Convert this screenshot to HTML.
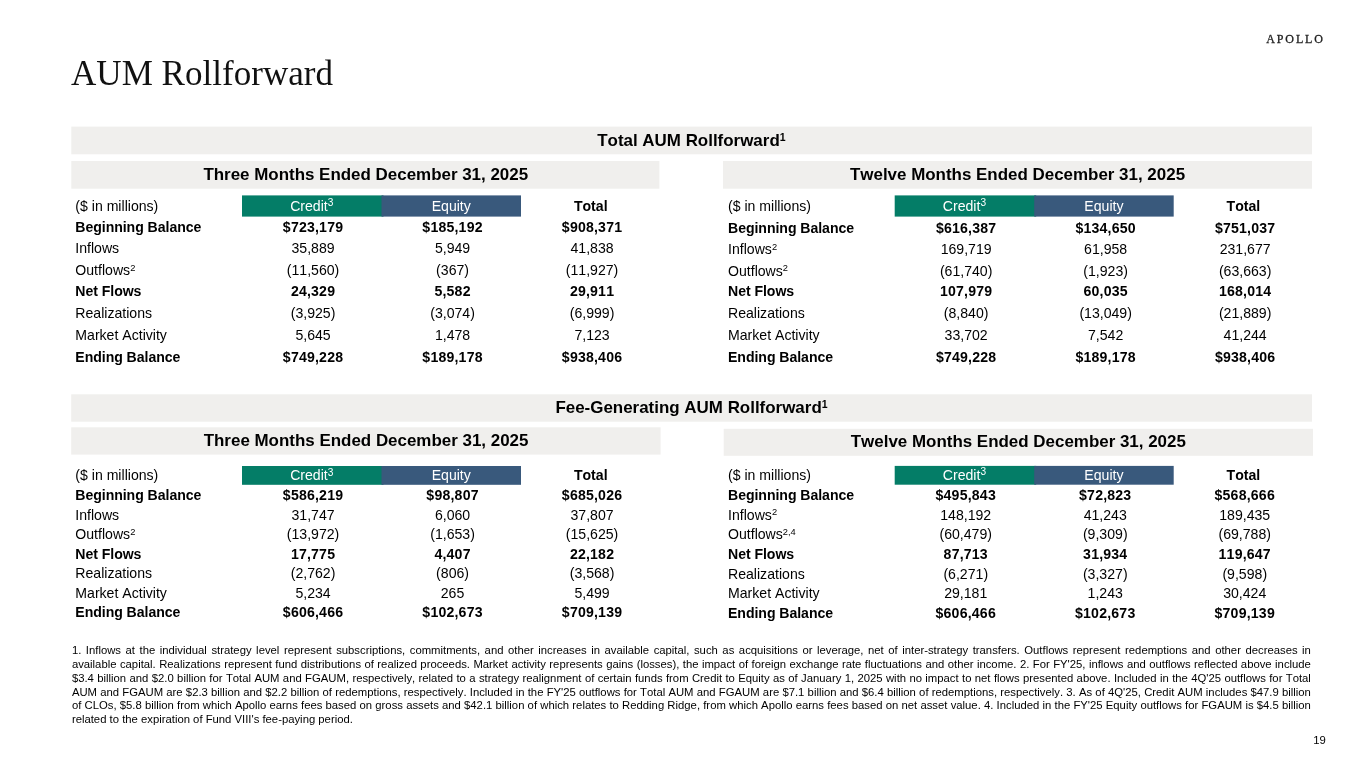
<!DOCTYPE html>
<html lang="en"><head><meta charset="utf-8"><title>AUM Rollforward</title>
<style>
html,body{margin:0;padding:0;background:#fff}
body{width:1365px;height:768px;position:relative;overflow:hidden;font-family:"Liberation Sans",Arial,sans-serif;color:#000;font-kerning:none}
.bg{position:absolute;left:0;top:0}
.cell{position:absolute}
.cr{background:#0a7b65}
.eq{background:#3a5a7a}
.t{position:absolute;font-size:14.1px;line-height:20px;white-space:nowrap}
.b{font-weight:bold}
.w{color:#fff}
.n.b{letter-spacing:0.2px}
.l.b{letter-spacing:-0.05px}
.l sup{font-size:66%;top:-0.47em}
sup{font-size:72%;line-height:0;vertical-align:baseline;position:relative;top:-0.445em}
.h sup{font-size:62%;top:-0.49em}
.h{position:absolute;font-weight:bold;font-size:16.95px;line-height:24px;white-space:nowrap;text-align:center}
.title{position:absolute;left:70.5px;top:48px;font-family:"Liberation Serif","Times New Roman",serif;font-size:36px;line-height:50px;white-space:nowrap;transform:translateY(-0.45px) scaleX(0.974);transform-origin:0 0;color:#111}
.logo{position:absolute;left:1266.2px;top:31.35px;font-family:"Liberation Serif","Times New Roman",serif;font-size:12px;line-height:16px;letter-spacing:1.9px;-webkit-text-stroke:0.3px #222;white-space:nowrap;color:#222}
.fn{position:absolute;left:71.9px;width:1239px;font-size:11.3px;line-height:14px;white-space:nowrap}
.j{text-align:justify;text-align-last:justify;white-space:normal;height:14px;overflow:hidden}
.pg{position:absolute;left:1290px;width:35.8px;top:732.3px;text-align:right;font-size:11.3px;line-height:16px}
</style></head><body>
<div class="title">AUM Rollforward</div>
<div class="logo">APOLLO</div>
<svg class="bg" width="1365" height="768" viewBox="0 0 1365 768">
<g fill="#f0efed">
<rect x="71.3" y="126.6" width="1240.7" height="27.7"/>
<rect x="71.3" y="161" width="588.1" height="27.7"/>
<rect x="723" y="161" width="589" height="27.7"/>
<rect x="71.2" y="394.3" width="1240.8" height="27.4"/>
<rect x="71.2" y="427.3" width="589.4" height="27.3"/>
<rect x="723.7" y="428.8" width="589.3" height="27"/>
</g>
<rect x="242.00" y="195.40" width="141.50" height="21.20" fill="#047d67"/>
<rect x="381.50" y="195.40" width="139.50" height="21.20" fill="#39597c"/>
<rect x="894.70" y="195.40" width="141.50" height="21.20" fill="#047d67"/>
<rect x="1034.20" y="195.40" width="139.50" height="21.20" fill="#39597c"/>
<rect x="242.00" y="466.00" width="141.50" height="18.80" fill="#047d67"/>
<rect x="381.50" y="466.00" width="139.50" height="18.80" fill="#39597c"/>
<rect x="894.70" y="465.90" width="141.50" height="18.80" fill="#047d67"/>
<rect x="1034.20" y="465.90" width="139.50" height="18.80" fill="#39597c"/>
</svg>
<div class="h" id="h1" style="left:70.9px;width:1241px;top:128.7px">Total AUM Rollforward<sup>1</sup></div>
<div class="h" id="h2" style="left:71.5px;width:588.5px;top:162.9px">Three Months Ended December 31, 2025</div>
<div class="h" id="h3" style="left:723px;width:589px;top:162.85px">Twelve Months Ended December 31, 2025</div>
<div class="h" id="h4" style="left:71px;width:1241px;top:396px">Fee-Generating AUM Rollforward<sup>1</sup></div>
<div class="h" id="h5" style="left:71.3px;width:589.5px;top:429.2px">Three Months Ended December 31, 2025</div>
<div class="h" id="h6" style="left:723.7px;width:589.3px;top:430.45px">Twelve Months Ended December 31, 2025</div>
<div class="t " style="left:75.30px;top:195.61px;width:170.00px;text-align:left;">($ in millions)</div>
<div class="t w" style="left:242.00px;top:195.61px;width:139.50px;text-align:center;">Credit<sup>3</sup></div>
<div class="t w" style="left:381.50px;top:195.61px;width:139.50px;text-align:center;">Equity</div>
<div class="t b" style="left:521.00px;top:195.61px;width:139.50px;text-align:center;">Total</div>
<div class="t l b" style="left:75.30px;top:216.81px;width:170.00px;text-align:left;">Beginning Balance</div>
<div class="t n b" style="left:243.30px;top:216.81px;width:139.50px;text-align:center;">$723,179</div>
<div class="t n b" style="left:382.80px;top:216.81px;width:139.50px;text-align:center;">$185,192</div>
<div class="t n b" style="left:522.30px;top:216.81px;width:139.50px;text-align:center;">$908,371</div>
<div class="t l " style="left:75.30px;top:238.41px;width:170.00px;text-align:left;">Inflows</div>
<div class="t n " style="left:243.30px;top:238.41px;width:139.50px;text-align:center;">35,889</div>
<div class="t n " style="left:382.80px;top:238.41px;width:139.50px;text-align:center;">5,949</div>
<div class="t n " style="left:522.30px;top:238.41px;width:139.50px;text-align:center;">41,838</div>
<div class="t l " style="left:75.30px;top:259.91px;width:170.00px;text-align:left;">Outflows<sup>2</sup></div>
<div class="t n " style="left:243.30px;top:259.91px;width:139.50px;text-align:center;">(11,560)</div>
<div class="t n " style="left:382.80px;top:259.91px;width:139.50px;text-align:center;">(367)</div>
<div class="t n " style="left:522.30px;top:259.91px;width:139.50px;text-align:center;">(11,927)</div>
<div class="t l b" style="left:75.30px;top:280.91px;width:170.00px;text-align:left;">Net Flows</div>
<div class="t n b" style="left:243.30px;top:280.91px;width:139.50px;text-align:center;">24,329</div>
<div class="t n b" style="left:382.80px;top:280.91px;width:139.50px;text-align:center;">5,582</div>
<div class="t n b" style="left:522.30px;top:280.91px;width:139.50px;text-align:center;">29,911</div>
<div class="t l " style="left:75.30px;top:303.11px;width:170.00px;text-align:left;">Realizations</div>
<div class="t n " style="left:243.30px;top:303.11px;width:139.50px;text-align:center;">(3,925)</div>
<div class="t n " style="left:382.80px;top:303.11px;width:139.50px;text-align:center;">(3,074)</div>
<div class="t n " style="left:522.30px;top:303.11px;width:139.50px;text-align:center;">(6,999)</div>
<div class="t l " style="left:75.30px;top:325.31px;width:170.00px;text-align:left;">Market Activity</div>
<div class="t n " style="left:243.30px;top:325.31px;width:139.50px;text-align:center;">5,645</div>
<div class="t n " style="left:382.80px;top:325.31px;width:139.50px;text-align:center;">1,478</div>
<div class="t n " style="left:522.30px;top:325.31px;width:139.50px;text-align:center;">7,123</div>
<div class="t l b" style="left:75.30px;top:347.21px;width:170.00px;text-align:left;">Ending Balance</div>
<div class="t n b" style="left:243.30px;top:347.21px;width:139.50px;text-align:center;">$749,228</div>
<div class="t n b" style="left:382.80px;top:347.21px;width:139.50px;text-align:center;">$189,178</div>
<div class="t n b" style="left:522.30px;top:347.21px;width:139.50px;text-align:center;">$938,406</div>
<div class="t " style="left:728.00px;top:195.91px;width:170.00px;text-align:left;">($ in millions)</div>
<div class="t w" style="left:894.70px;top:195.91px;width:139.50px;text-align:center;">Credit<sup>3</sup></div>
<div class="t w" style="left:1034.20px;top:195.91px;width:139.50px;text-align:center;">Equity</div>
<div class="t b" style="left:1173.70px;top:195.91px;width:139.50px;text-align:center;">Total</div>
<div class="t l b" style="left:728.00px;top:217.71px;width:170.00px;text-align:left;">Beginning Balance</div>
<div class="t n b" style="left:896.40px;top:217.71px;width:139.50px;text-align:center;">$616,387</div>
<div class="t n b" style="left:1035.90px;top:217.71px;width:139.50px;text-align:center;">$134,650</div>
<div class="t n b" style="left:1175.40px;top:217.71px;width:139.50px;text-align:center;">$751,037</div>
<div class="t l " style="left:728.00px;top:239.21px;width:170.00px;text-align:left;">Inflows<sup>2</sup></div>
<div class="t n " style="left:896.40px;top:239.21px;width:139.50px;text-align:center;">169,719</div>
<div class="t n " style="left:1035.90px;top:239.21px;width:139.50px;text-align:center;">61,958</div>
<div class="t n " style="left:1175.40px;top:239.21px;width:139.50px;text-align:center;">231,677</div>
<div class="t l " style="left:728.00px;top:260.61px;width:170.00px;text-align:left;">Outflows<sup>2</sup></div>
<div class="t n " style="left:896.40px;top:260.61px;width:139.50px;text-align:center;">(61,740)</div>
<div class="t n " style="left:1035.90px;top:260.61px;width:139.50px;text-align:center;">(1,923)</div>
<div class="t n " style="left:1175.40px;top:260.61px;width:139.50px;text-align:center;">(63,663)</div>
<div class="t l b" style="left:728.00px;top:281.31px;width:170.00px;text-align:left;">Net Flows</div>
<div class="t n b" style="left:896.40px;top:281.31px;width:139.50px;text-align:center;">107,979</div>
<div class="t n b" style="left:1035.90px;top:281.31px;width:139.50px;text-align:center;">60,035</div>
<div class="t n b" style="left:1175.40px;top:281.31px;width:139.50px;text-align:center;">168,014</div>
<div class="t l " style="left:728.00px;top:303.41px;width:170.00px;text-align:left;">Realizations</div>
<div class="t n " style="left:896.40px;top:303.41px;width:139.50px;text-align:center;">(8,840)</div>
<div class="t n " style="left:1035.90px;top:303.41px;width:139.50px;text-align:center;">(13,049)</div>
<div class="t n " style="left:1175.40px;top:303.41px;width:139.50px;text-align:center;">(21,889)</div>
<div class="t l " style="left:728.00px;top:325.41px;width:170.00px;text-align:left;">Market Activity</div>
<div class="t n " style="left:896.40px;top:325.41px;width:139.50px;text-align:center;">33,702</div>
<div class="t n " style="left:1035.90px;top:325.41px;width:139.50px;text-align:center;">7,542</div>
<div class="t n " style="left:1175.40px;top:325.41px;width:139.50px;text-align:center;">41,244</div>
<div class="t l b" style="left:728.00px;top:346.51px;width:170.00px;text-align:left;">Ending Balance</div>
<div class="t n b" style="left:896.40px;top:346.51px;width:139.50px;text-align:center;">$749,228</div>
<div class="t n b" style="left:1035.90px;top:346.51px;width:139.50px;text-align:center;">$189,178</div>
<div class="t n b" style="left:1175.40px;top:346.51px;width:139.50px;text-align:center;">$938,406</div>
<div class="t " style="left:75.30px;top:465.11px;width:170.00px;text-align:left;">($ in millions)</div>
<div class="t w" style="left:242.00px;top:465.11px;width:139.50px;text-align:center;">Credit<sup>3</sup></div>
<div class="t w" style="left:381.50px;top:465.11px;width:139.50px;text-align:center;">Equity</div>
<div class="t b" style="left:521.00px;top:465.11px;width:139.50px;text-align:center;">Total</div>
<div class="t l b" style="left:75.30px;top:484.81px;width:170.00px;text-align:left;">Beginning Balance</div>
<div class="t n b" style="left:243.30px;top:484.81px;width:139.50px;text-align:center;">$586,219</div>
<div class="t n b" style="left:382.80px;top:484.81px;width:139.50px;text-align:center;">$98,807</div>
<div class="t n b" style="left:522.30px;top:484.81px;width:139.50px;text-align:center;">$685,026</div>
<div class="t l " style="left:75.30px;top:504.81px;width:170.00px;text-align:left;">Inflows</div>
<div class="t n " style="left:243.30px;top:504.81px;width:139.50px;text-align:center;">31,747</div>
<div class="t n " style="left:382.80px;top:504.81px;width:139.50px;text-align:center;">6,060</div>
<div class="t n " style="left:522.30px;top:504.81px;width:139.50px;text-align:center;">37,807</div>
<div class="t l " style="left:75.30px;top:524.21px;width:170.00px;text-align:left;">Outflows<sup>2</sup></div>
<div class="t n " style="left:243.30px;top:524.21px;width:139.50px;text-align:center;">(13,972)</div>
<div class="t n " style="left:382.80px;top:524.21px;width:139.50px;text-align:center;">(1,653)</div>
<div class="t n " style="left:522.30px;top:524.21px;width:139.50px;text-align:center;">(15,625)</div>
<div class="t l b" style="left:75.30px;top:543.61px;width:170.00px;text-align:left;">Net Flows</div>
<div class="t n b" style="left:243.30px;top:543.61px;width:139.50px;text-align:center;">17,775</div>
<div class="t n b" style="left:382.80px;top:543.61px;width:139.50px;text-align:center;">4,407</div>
<div class="t n b" style="left:522.30px;top:543.61px;width:139.50px;text-align:center;">22,182</div>
<div class="t l " style="left:75.30px;top:563.41px;width:170.00px;text-align:left;">Realizations</div>
<div class="t n " style="left:243.30px;top:563.41px;width:139.50px;text-align:center;">(2,762)</div>
<div class="t n " style="left:382.80px;top:563.41px;width:139.50px;text-align:center;">(806)</div>
<div class="t n " style="left:522.30px;top:563.41px;width:139.50px;text-align:center;">(3,568)</div>
<div class="t l " style="left:75.30px;top:582.71px;width:170.00px;text-align:left;">Market Activity</div>
<div class="t n " style="left:243.30px;top:582.71px;width:139.50px;text-align:center;">5,234</div>
<div class="t n " style="left:382.80px;top:582.71px;width:139.50px;text-align:center;">265</div>
<div class="t n " style="left:522.30px;top:582.71px;width:139.50px;text-align:center;">5,499</div>
<div class="t l b" style="left:75.30px;top:602.21px;width:170.00px;text-align:left;">Ending Balance</div>
<div class="t n b" style="left:243.30px;top:602.21px;width:139.50px;text-align:center;">$606,466</div>
<div class="t n b" style="left:382.80px;top:602.21px;width:139.50px;text-align:center;">$102,673</div>
<div class="t n b" style="left:522.30px;top:602.21px;width:139.50px;text-align:center;">$709,139</div>
<div class="t " style="left:728.00px;top:464.91px;width:170.00px;text-align:left;">($ in millions)</div>
<div class="t w" style="left:894.70px;top:464.91px;width:139.50px;text-align:center;">Credit<sup>3</sup></div>
<div class="t w" style="left:1034.20px;top:464.91px;width:139.50px;text-align:center;">Equity</div>
<div class="t b" style="left:1173.70px;top:464.91px;width:139.50px;text-align:center;">Total</div>
<div class="t l b" style="left:728.00px;top:484.51px;width:170.00px;text-align:left;">Beginning Balance</div>
<div class="t n b" style="left:896.00px;top:484.51px;width:139.50px;text-align:center;">$495,843</div>
<div class="t n b" style="left:1035.50px;top:484.51px;width:139.50px;text-align:center;">$72,823</div>
<div class="t n b" style="left:1175.00px;top:484.51px;width:139.50px;text-align:center;">$568,666</div>
<div class="t l " style="left:728.00px;top:504.61px;width:170.00px;text-align:left;">Inflows<sup>2</sup></div>
<div class="t n " style="left:896.00px;top:504.61px;width:139.50px;text-align:center;">148,192</div>
<div class="t n " style="left:1035.50px;top:504.61px;width:139.50px;text-align:center;">41,243</div>
<div class="t n " style="left:1175.00px;top:504.61px;width:139.50px;text-align:center;">189,435</div>
<div class="t l " style="left:728.00px;top:524.31px;width:170.00px;text-align:left;">Outflows<sup>2,4</sup></div>
<div class="t n " style="left:896.00px;top:524.31px;width:139.50px;text-align:center;">(60,479)</div>
<div class="t n " style="left:1035.50px;top:524.31px;width:139.50px;text-align:center;">(9,309)</div>
<div class="t n " style="left:1175.00px;top:524.31px;width:139.50px;text-align:center;">(69,788)</div>
<div class="t l b" style="left:728.00px;top:544.01px;width:170.00px;text-align:left;">Net Flows</div>
<div class="t n b" style="left:896.00px;top:544.01px;width:139.50px;text-align:center;">87,713</div>
<div class="t n b" style="left:1035.50px;top:544.01px;width:139.50px;text-align:center;">31,934</div>
<div class="t n b" style="left:1175.00px;top:544.01px;width:139.50px;text-align:center;">119,647</div>
<div class="t l " style="left:728.00px;top:563.81px;width:170.00px;text-align:left;">Realizations</div>
<div class="t n " style="left:896.00px;top:563.81px;width:139.50px;text-align:center;">(6,271)</div>
<div class="t n " style="left:1035.50px;top:563.81px;width:139.50px;text-align:center;">(3,327)</div>
<div class="t n " style="left:1175.00px;top:563.81px;width:139.50px;text-align:center;">(9,598)</div>
<div class="t l " style="left:728.00px;top:582.81px;width:170.00px;text-align:left;">Market Activity</div>
<div class="t n " style="left:896.00px;top:582.81px;width:139.50px;text-align:center;">29,181</div>
<div class="t n " style="left:1035.50px;top:582.81px;width:139.50px;text-align:center;">1,243</div>
<div class="t n " style="left:1175.00px;top:582.81px;width:139.50px;text-align:center;">30,424</div>
<div class="t l b" style="left:728.00px;top:602.51px;width:170.00px;text-align:left;">Ending Balance</div>
<div class="t n b" style="left:896.00px;top:602.51px;width:139.50px;text-align:center;">$606,466</div>
<div class="t n b" style="left:1035.50px;top:602.51px;width:139.50px;text-align:center;">$102,673</div>
<div class="t n b" style="left:1175.00px;top:602.51px;width:139.50px;text-align:center;">$709,139</div>
<div class="fn j" style="top:643.38px">1. Inflows at the individual strategy level represent subscriptions, commitments, and other increases in available capital, such as acquisitions or leverage, net of inter-strategy transfers. Outflows represent redemptions and other decreases in</div>
<div class="fn j" style="top:657.18px">available capital. Realizations represent fund distributions of realized proceeds. Market activity represents gains (losses), the impact of foreign exchange rate fluctuations and other income. 2. For FY'25, inflows and outflows reflected above include</div>
<div class="fn j" style="top:670.88px">$3.4 billion and $2.0 billion for Total AUM and FGAUM, respectively, related to a strategy realignment of certain funds from Credit to Equity as of January 1, 2025 with no impact to net flows presented above. Included in the 4Q'25 outflows for Total</div>
<div class="fn j" style="top:684.68px">AUM and FGAUM are $2.3 billion and $2.2 billion of redemptions, respectively. Included in the FY'25 outflows for Total AUM and FGAUM are $7.1 billion and $6.4 billion of redemptions, respectively. 3. As of 4Q'25, Credit AUM includes $47.9 billion</div>
<div class="fn j" style="top:698.28px">of CLOs, $5.8 billion from which Apollo earns fees based on gross assets and $42.1 billion of which relates to Redding Ridge, from which Apollo earns fees based on net asset value. 4. Included in the FY'25 Equity outflows for FGAUM is $4.5 billion</div>
<div class="fn" style="top:711.78px">related to the expiration of Fund VIII's fee-paying period.</div>
<div class="pg">19</div>
</body></html>
